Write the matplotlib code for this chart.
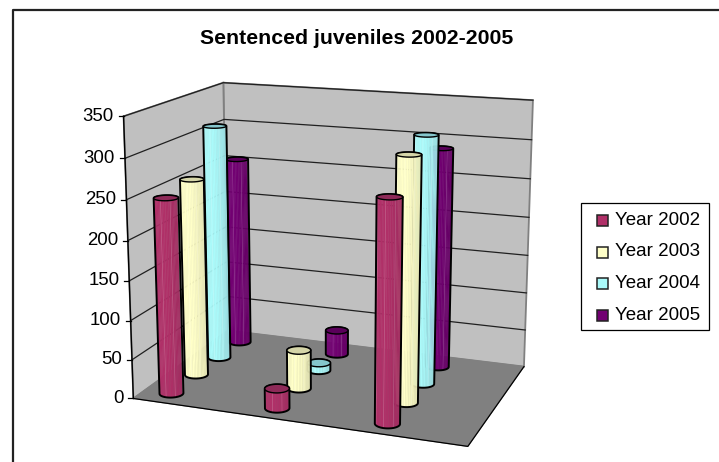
import numpy as np
import matplotlib
matplotlib.use("Agg")
import matplotlib.pyplot as plt
from matplotlib.patches import Polygon, Rectangle

TITLE = "Sentenced juveniles 2002-2005"
SERIES = ["Year 2002", "Year 2003", "Year 2004", "Year 2005"]
TICKS = [0, 50, 100, 150, 200, 250, 300, 350]
Y_MAX = 350

# one row per category, one value per series
VALUES_A = [248, 256, 311, 255]
VALUES_B = [25, 50, 10, 33]
VALUES_C = [272, 307, 318, 289]

# floor position of each category and series, 0..1 across and into the box
CAT_POS = [0.085, 0.42, 0.75]
SERIES_POS = [0.115, 0.37, 0.62, 0.86]
RADIUS_U = 0.035
RADIUS_V = 0.052

BODY = ["#B03068", "#FFFFC8", "#AAFAFA", "#720072"]
DARK = ["#8E2A58", "#D5D5A8", "#84C6CC", "#5A005A"]
SHADE = ["#A02C60", "#E6E6B4", "#9ADEE2", "#640064"]

# corners of the box on the canvas: (u, v, w) -> pixel
BOX = {
    (0, 0, 0): (134, 399), (1, 0, 0): (468, 446),
    (0, 1, 0): (227, 330), (1, 1, 0): (524, 367),
    (0, 0, 1): (123, 116), (1, 0, 1): (475, 140),
    (0, 1, 1): (224, 83), (1, 1, 1): (533, 100),
}


def fit_projection(box):
    rows, rhs = [], []
    for (u, v, w), (x, y) in box.items():
        rows.append([u, v, w, 1, 0, 0, 0, 0, -x * u, -x * v, -x * w])
        rhs.append(x)
        rows.append([0, 0, 0, 0, u, v, w, 1, -y * u, -y * v, -y * w])
        rhs.append(y)
    p = np.linalg.lstsq(np.array(rows, float), np.array(rhs, float), rcond=None)[0]
    return np.append(p, 1).reshape(3, 4)


PROJ = fit_projection(BOX)


def project(u, v, w):
    u, v, w = np.broadcast_arrays(u, v, w)
    pts = np.stack([u, v, w, np.ones_like(u, dtype=float)], axis=-1) @ PROJ.T
    return pts[..., :2] / pts[..., 2:]


def convex_hull(points):
    pts = sorted(map(tuple, points))
    def half(seq):
        out = []
        for p in seq:
            while len(out) > 1:
                a, b = np.subtract(out[-1], out[-2]), np.subtract(p, out[-1])
                if a[0] * b[1] - a[1] * b[0] > 0:
                    break
                out.pop()
            out.append(p)
        return out[:-1]
    return half(pts) + half(pts[::-1])


def draw_cylinder(ax, u0, v0, value, idx, z):
    ang = np.linspace(0, 2 * np.pi, 49)
    cu = u0 + RADIUS_U * np.cos(ang)
    cv = v0 + RADIUS_V * np.sin(ang)
    w = value / Y_MAX
    low = project(cu, cv, 0 * ang)
    top = project(cu, cv, w + 0 * ang)
    xmin, xmax = low[:, 0].min(), low[:, 0].max()
    base = matplotlib.colors.to_rgb(BODY[idx])
    shade = matplotlib.colors.to_rgb(SHADE[idx])
    for i in range(48):
        if cv[i] + cv[i + 1] > 2 * v0:
            continue
        t = ((low[i, 0] + low[i + 1, 0]) / 2 - xmin) / (xmax - xmin)
        mix = min(1, max(0, (t - 0.45) / 0.55))
        col = [b + (s - b) * mix for b, s in zip(base, shade)]
        quad = [low[i], low[i + 1], top[i + 1], top[i]]
        ax.add_patch(Polygon(quad, fc=col, ec=col, lw=0.3, zorder=z))
        # pale streaks running up the column
        if i % 6 == 0:
            light = [c + (1 - c) * 0.22 for c in col]
            ax.plot([low[i, 0], top[i, 0]], [low[i, 1], top[i, 1]], color=light, lw=0.5, zorder=z)
    hull = convex_hull(np.vstack([low, top]))
    ax.add_patch(Polygon(hull, fill=False, ec="black", lw=1.4, joinstyle="round", zorder=z))
    ax.add_patch(Polygon(top, fc=DARK[idx], ec="black", lw=1.0, zorder=z))


def main():
    plt.rcParams["font.family"] = "Liberation Sans"
    fig = plt.figure(figsize=(7.19, 4.62), dpi=100)
    ax = fig.add_axes([0, 0, 1, 1])
    ax.set_xlim(0, 719)
    ax.set_ylim(462, 0)
    ax.axis("off")

    ax.plot([13, 13, 719], [462, 10, 10], color="#222222", lw=1.6)
    ax.text(357, 39, TITLE, ha="center", va="center", fontsize=15.3, fontweight="bold")

    # walls and floor
    back = [project(*c) for c in [(0, 1, 0), (1, 1, 0), (1, 1, 1), (0, 1, 1)]]
    side = [project(*c) for c in [(0, 0, 0), (0, 1, 0), (0, 1, 1), (0, 0, 1)]]
    floor = [project(*c) for c in [(0, 0, 0), (1, 0, 0), (1, 1, 0), (0, 1, 0)]]
    ax.add_patch(Polygon(back, fc="#C0C0C0", ec="#808080", lw=1.3))
    ax.add_patch(Polygon(side, fc="#C0C0C0", ec="#808080", lw=1.3))
    ax.add_patch(Polygon(floor, fc="#808080", ec="#808080", lw=0.8))

    for tick in TICKS:
        w = tick / Y_MAX
        a, b, c = project(0, 0, w), project(0, 1, w), project(1, 1, w)
        if tick > 0:
            ax.plot([a[0], b[0], c[0]], [a[1], b[1], c[1]], color="#202020", lw=0.9)
        ax.plot([a[0] - 5, a[0]], [a[1], a[1]], color="black", lw=0.9)
        ax.text(a[0] - 10, a[1], str(tick), ha="right", va="center", fontsize=13.4)

    left_axis = np.array([project(0, 0, 0), project(0, 0, 1)])
    ax.plot(left_axis[:, 0], left_axis[:, 1], color="black", lw=1.0)
    front = np.array([project(0, 0, 0), project(1, 0, 0), project(1, 1, 0)])
    ax.plot(front[:, 0], front[:, 1], color="black", lw=0.9)

    # back rows first so nearer columns cover them
    for s in reversed(range(len(SERIES))):
        for c, vals in enumerate([VALUES_A, VALUES_B, VALUES_C]):
            draw_cylinder(ax, CAT_POS[c], SERIES_POS[s], vals[s], s, 5 + (3 - s))

    # legend
    ax.add_patch(Rectangle((581, 203), 128, 127, fc="white", ec="black", lw=0.9, zorder=20))
    for i, name in enumerate(SERIES):
        y = 220.5 + i * 31.5
        ax.add_patch(Rectangle((597, y - 5.5), 11, 11, fc=BODY[i], ec="#222222", lw=1.1, zorder=21))
        ax.text(615, y, name, va="center", fontsize=13.5, zorder=21)

    fig.savefig("out.png", dpi=100)


if __name__ == "__main__":
    main()
